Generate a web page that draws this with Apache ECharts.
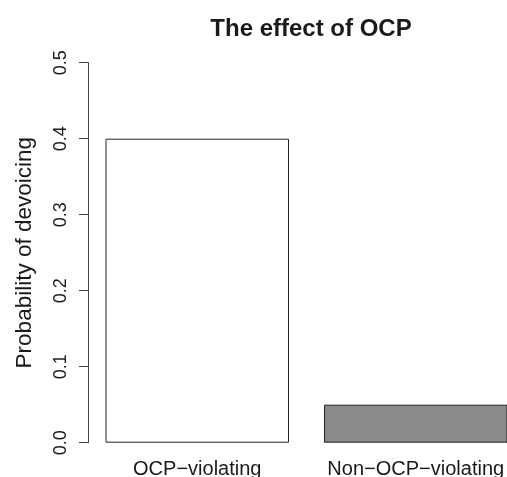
<!DOCTYPE html>
<html>
<head>
<meta charset="utf-8">
<script src="https://cdn.jsdelivr.net/npm/echarts@6/dist/echarts.min.js"></script>
<style>
  html, body { margin: 0; padding: 0; background: #fff; }
  #chart { width: 507px; height: 477px; }
</style>
</head>
<body>
<div id="chart"></div>
<script>
// Devoicing probability by OCP condition
const categories = ['OCP\u2212violating', 'Non\u2212OCP\u2212violating'];
const probabilities = [0.40, 0.05];
const barColors = ['#ffffff', '#8a8a8c'];
const yTicks = [0, 0.1, 0.2, 0.3, 0.4, 0.5];

const font = '"Liberation Sans", Arial, Helvetica, sans-serif';

const chart = echarts.init(document.getElementById('chart'), null, { renderer: 'canvas' });

chart.setOption({
  animation: false,
  backgroundColor: '#ffffff',
  title: {
    text: 'The effect of OCP',
    left: 306,
    top: 12,
    textAlign: 'center',
    textStyle: { fontFamily: font, fontWeight: 'bold', fontSize: 24, color: '#1a1a1a' }
  },
  // plot region runs past the right edge of the canvas; the second bar is clipped
  grid: { left: 88, top: 62.7, width: 437, height: 380, outerBoundsMode: 'none', containLabel: false },
  xAxis: {
    type: 'category',
    data: categories,
    axisLine: { show: false },
    axisTick: { show: false },
    axisLabel: {
      interval: 0,
      margin: 17,
      fontFamily: font,
      fontSize: 20,
      color: '#1a1a1a'
    },
    splitLine: { show: false }
  },
  yAxis: {
    type: 'value',
    min: yTicks[0],
    max: yTicks[yTicks.length - 1],
    interval: 0.1,
    name: 'Probability of devoicing',
    nameLocation: 'middle',
    nameRotate: 90,
    nameGap: 52,
    nameTextStyle: { fontFamily: font, fontSize: 22.5, color: '#1a1a1a' },
    axisLine: { show: true, lineStyle: { color: '#444444', width: 1 } },
    axisTick: { show: true, length: 9, lineStyle: { color: '#444444', width: 1 } },
    axisLabel: {
      rotate: 90,
      margin: 18,
      fontFamily: font,
      fontSize: 18,
      color: '#1a1a1a',
      formatter: v => v.toFixed(1)
    },
    splitLine: { show: false }
  },
  series: [{
    type: 'bar',
    barWidth: 183.5,
    data: probabilities.map((v, i) => ({
      value: v,
      itemStyle: { color: barColors[i], borderColor: '#222222', borderWidth: 1 }
    }))
  }]
});
</script>
</body>
</html>
